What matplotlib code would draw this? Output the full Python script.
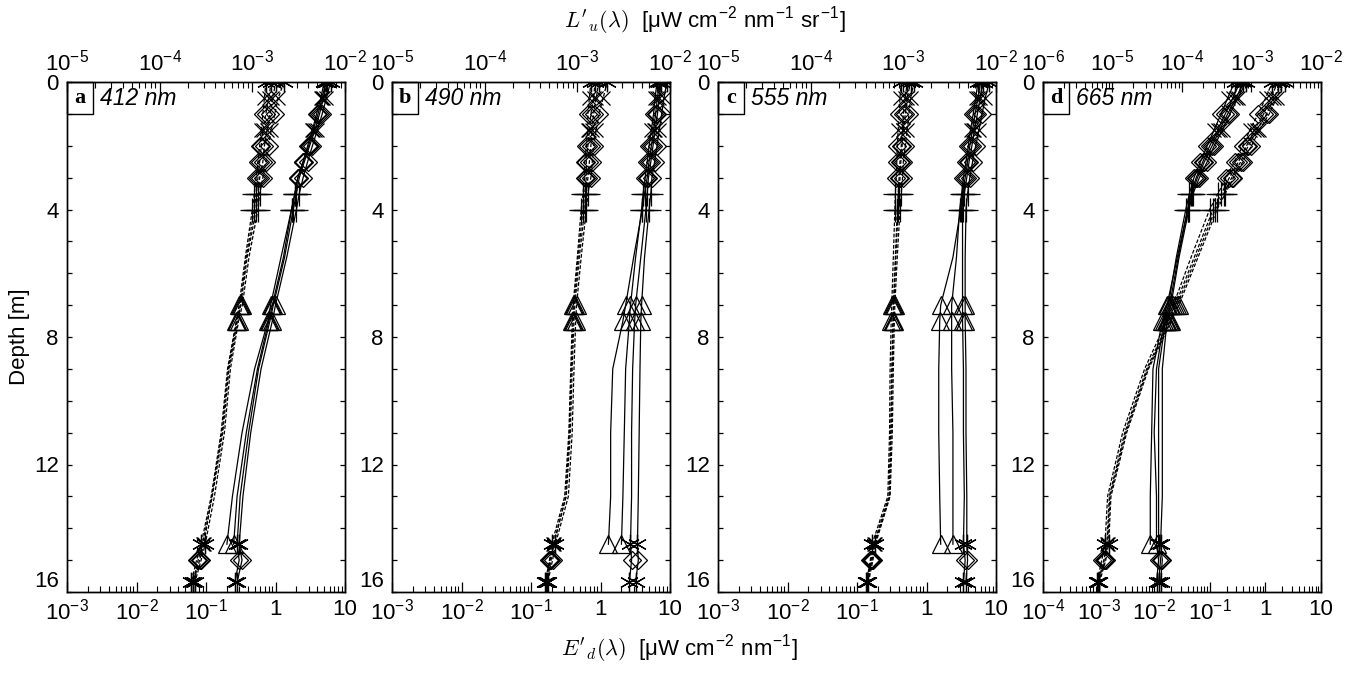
import numpy as np
import matplotlib
matplotlib.use("Agg")
import matplotlib.pyplot as plt
from matplotlib.patches import Rectangle
from matplotlib.ticker import LogLocator, NullFormatter, FixedLocator, FuncFormatter

plt.rcParams['font.family'] = ['Liberation Sans', 'DejaVu Sans']
plt.rcParams['mathtext.fontset'] = 'cm'
plt.rcParams['axes.linewidth'] = 1.0

# depth bins [m]
depth = [0, 0.5, 1, 1.5, 2, 2.5, 3, 3.5, 4, 5.5, 7, 7.5, 9, 11, 13, 14.5, 15, 15.7]
# symbol drawn at each bin ('tail' = per-cast symbol)
marks = ['*', 'x', 'D', 'x', 'D', 'D', 'D', '+', '+', None, '^', '^', None, None, None, 'tail', 'D', '*']

wavelengths = ['412 nm', '490 nm', '555 nm', '665 nm']
letters = ['a', 'b', 'c', 'd']

# E'd casts [uW cm-2 nm-1]
ed_412 = [
    [6.2, 5.4, 4.7, 4.0, 3.4, 2.9, 2.5, 2.2, 2.0, 1.45, 1.0, 0.9, 0.62, 0.44, 0.34, 0.30, 0.33, 0.28],
    [5.6, 4.9, 4.3, 3.7, 3.1, 2.6, 2.2, 2.0, 1.8, 1.35, 0.93, 0.83, 0.57, 0.41, 0.31, 0.28, 0.30, 0.26],
    [5.0, 4.5, 3.9, 3.4, 2.9, 2.5, 2.1, 1.9, 1.7, 1.3, 0.9, 0.8, 0.55, 0.38, 0.28, 0.25, None, None],
    [5.3, 4.7, 4.1, 3.5, 3.0, 2.5, 2.1, 1.9, 1.7, 1.2, 0.85, 0.78, 0.5, 0.33, 0.24, 0.20, None, None],
]
ed_490 = [
    [9.0, 8.2, 7.6, 7.0, 6.5, 6.0, 5.5, 5.3, 5.0, 4.3, 3.9, 3.8, 3.7, 3.6, 3.5, 3.4, 3.5, 3.2],
    [7.5, 7.0, 6.6, 6.1, 5.7, 5.3, 4.9, 4.7, 4.5, 3.8, 3.2, 3.1, 2.9, 2.8, 2.8, 2.7, 2.8, 2.6],
    [6.5, 6.1, 5.8, 5.4, 5.0, 4.7, 4.4, 4.1, 3.9, 3.2, 2.7, 2.6, 2.3, 2.2, 2.1, 2.0, None, None],
    [7.0, 6.6, 6.2, 5.8, 5.4, 5.0, 4.7, 4.3, 4.0, 3.0, 2.3, 2.1, 1.5, 1.4, 1.4, 1.3, None, None],
]
ed_555 = [
    [8.0, 7.0, 6.3, 5.7, 5.1, 4.6, 4.2, 3.9, 3.7, 3.6, 3.6, 3.6, 3.7, 3.7, 3.8, 3.8, 3.9, 3.7],
    [6.5, 5.9, 5.4, 4.9, 4.5, 4.1, 3.8, 3.5, 3.3, 3.3, 3.3, 3.3, 3.4, 3.4, 3.5, 3.4, 3.6, 3.4],
    [5.5, 5.1, 4.7, 4.3, 4.0, 3.7, 3.4, 3.2, 3.0, 2.7, 2.3, 2.3, 2.3, 2.4, 2.4, 2.4, None, None],
    [6.0, 5.5, 5.0, 4.6, 4.2, 3.9, 3.6, 3.3, 3.1, 2.4, 1.6, 1.55, 1.5, 1.5, 1.55, 1.6, None, None],
]
ed_665 = [
    [0.45, 0.32, 0.23, 0.17, 0.12, 0.09, 0.065, 0.05, 0.042, 0.028, 0.02, 0.017, 0.014, 0.014, 0.014, 0.013, 0.014, 0.013],
    [0.35, 0.26, 0.19, 0.14, 0.10, 0.075, 0.057, 0.046, 0.040, 0.027, 0.019, 0.016, 0.012, 0.012, 0.012, 0.012, 0.013, 0.012],
    [0.28, 0.21, 0.16, 0.12, 0.09, 0.068, 0.052, 0.043, 0.037, 0.025, 0.018, 0.015, 0.011, 0.010, 0.011, 0.011, 0.012, 0.011],
    [0.40, 0.30, 0.21, 0.15, 0.11, 0.08, 0.06, 0.048, 0.040, 0.026, 0.017, 0.014, 0.0095, 0.009, 0.0085, 0.0085, None, None],
]

# L'u casts [uW cm-2 nm-1 sr-1]
lu_412 = [
    [2.2e-3, 1.9e-3, 1.75e-3, 1.6e-3, 1.5e-3, 1.4e-3, 1.3e-3, 1.2e-3, 1.15e-3, 9.2e-4, 7.8e-4, 7.1e-4, 5.8e-4, 5.0e-4, 3.9e-4, 3.1e-4, 2.8e-4, 2.4e-4],
    [1.8e-3, 1.65e-3, 1.55e-3, 1.45e-3, 1.35e-3, 1.3e-3, 1.2e-3, 1.15e-3, 1.1e-3, 8.8e-4, 7.5e-4, 6.9e-4, 5.6e-4, 4.8e-4, 3.7e-4, 2.9e-4, 2.6e-4, 2.3e-4],
    [1.4e-3, 1.35e-3, 1.3e-3, 1.25e-3, 1.2e-3, 1.15e-3, 1.1e-3, 1.05e-3, 1.0e-3, 8.4e-4, 7.2e-4, 6.7e-4, 5.4e-4, 4.6e-4, 3.6e-4, 2.8e-4, 2.5e-4, 2.2e-4],
    [1.6e-3, 1.5e-3, 1.4e-3, 1.3e-3, 1.25e-3, 1.2e-3, 1.15e-3, 1.1e-3, 1.05e-3, 8.6e-4, 7.4e-4, 6.8e-4, 5.5e-4, 4.7e-4, 3.65e-4, 3.0e-4, 2.7e-4, 2.3e-4],
]
lu_490 = [
    [2.1e-3, 1.9e-3, 1.7e-3, 1.6e-3, 1.5e-3, 1.45e-3, 1.4e-3, 1.3e-3, 1.25e-3, 1.1e-3, 9.8e-4, 9.6e-4, 9.2e-4, 8.8e-4, 8.0e-4, 5.8e-4, 5.4e-4, 4.8e-4],
    [1.7e-3, 1.6e-3, 1.5e-3, 1.45e-3, 1.4e-3, 1.35e-3, 1.3e-3, 1.25e-3, 1.2e-3, 1.05e-3, 9.4e-4, 9.2e-4, 8.8e-4, 8.4e-4, 7.6e-4, 5.5e-4, 5.1e-4, 4.6e-4],
    [1.4e-3, 1.35e-3, 1.3e-3, 1.3e-3, 1.25e-3, 1.2e-3, 1.2e-3, 1.15e-3, 1.1e-3, 1.0e-3, 9.0e-4, 8.8e-4, 8.5e-4, 8.1e-4, 7.3e-4, 5.3e-4, 5.0e-4, 4.5e-4],
    [1.55e-3, 1.5e-3, 1.4e-3, 1.35e-3, 1.3e-3, 1.25e-3, 1.25e-3, 1.2e-3, 1.15e-3, 1.02e-3, 9.2e-4, 9.0e-4, 8.6e-4, 8.2e-4, 7.5e-4, 5.6e-4, 5.2e-4, 4.7e-4],
]
lu_555 = [
    [1.3e-3, 1.2e-3, 1.15e-3, 1.1e-3, 1.05e-3, 1.0e-3, 9.8e-4, 9.5e-4, 9.2e-4, 8.6e-4, 8.1e-4, 8.0e-4, 7.8e-4, 7.6e-4, 7.2e-4, 5.0e-4, 4.7e-4, 4.2e-4],
    [1.1e-3, 1.05e-3, 1.0e-3, 9.8e-4, 9.5e-4, 9.2e-4, 9.0e-4, 8.8e-4, 8.6e-4, 8.2e-4, 7.8e-4, 7.7e-4, 7.5e-4, 7.3e-4, 7.0e-4, 4.8e-4, 4.5e-4, 4.1e-4],
    [9.5e-4, 9.2e-4, 9.0e-4, 8.8e-4, 8.6e-4, 8.5e-4, 8.4e-4, 8.2e-4, 8.1e-4, 7.8e-4, 7.5e-4, 7.4e-4, 7.2e-4, 7.1e-4, 6.8e-4, 4.6e-4, 4.4e-4, 4.0e-4],
    [1.2e-3, 1.1e-3, 1.05e-3, 1.0e-3, 9.7e-4, 9.4e-4, 9.2e-4, 9.0e-4, 8.8e-4, 8.3e-4, 7.9e-4, 7.8e-4, 7.6e-4, 7.4e-4, 7.1e-4, 4.9e-4, 4.6e-4, 4.1e-4],
]
lu_665 = [
    [3.0e-3, 2.3e-3, 1.8e-3, 1.3e-3, 1.0e-3, 7.5e-4, 5.5e-4, 4.2e-4, 3.2e-4, 1.7e-4, 9.0e-5, 7.0e-5, 3.3e-5, 1.6e-5, 9.5e-6, 8.8e-6, 8.0e-6, 6.5e-6],
    [2.4e-3, 1.9e-3, 1.5e-3, 1.1e-3, 8.5e-4, 6.5e-4, 4.8e-4, 3.7e-4, 2.8e-4, 1.5e-4, 8.0e-5, 6.5e-5, 3.1e-5, 1.5e-5, 9.0e-6, 8.3e-6, 7.5e-6, 6.2e-6],
    [2.0e-3, 1.6e-3, 1.25e-3, 9.5e-4, 7.5e-4, 5.7e-4, 4.3e-4, 3.3e-4, 2.5e-4, 1.35e-4, 7.5e-5, 6.0e-5, 2.9e-5, 1.4e-5, 8.5e-6, 7.8e-6, 7.0e-6, 6.0e-6],
    [2.7e-3, 2.1e-3, 1.65e-3, 1.2e-3, 9.0e-4, 7.0e-4, 5.2e-4, 4.0e-4, 3.0e-4, 1.6e-4, 8.5e-5, 6.8e-5, 3.2e-5, 1.55e-5, 9.2e-6, 8.5e-6, 7.8e-6, 6.3e-6],
]

ed_all = [ed_412, ed_490, ed_555, ed_665]
lu_all = [lu_412, lu_490, lu_555, lu_665]
ed_tail = ['*', '*', '^', '^']
lu_tail = ['*', 'x', '*', 'x']

ed_lims = [(1e-3, 10), (1e-3, 10), (1e-3, 10), (1e-4, 10)]
lu_lims = [(1e-5, 1e-2), (1e-5, 1e-2), (1e-5, 1e-2), (1e-6, 1e-2)]

MSTYLE = {'*': ((6, 2, 0), 14), 'x': ('x', 10), 'D': ('D', 9),
          '+': ('+', 17), '^': ('^', 13)}


def put_marks(ax, xs, tail):
    x = np.array(xs, dtype=float)
    z = np.array(depth)
    syms = [tail if m == 'tail' else m for m in marks]
    for s in MSTYLE:
        idx = [i for i, m in enumerate(syms) if m == s]
        if not idx:
            continue
        mk, ms = MSTYLE[s]
        ax.plot(x[idx], z[idx], ls='none', marker=mk, ms=ms, mfc='none',
                mec='k', mew=0.9, zorder=3)


def log_label(v, pos):
    e = int(round(np.log10(v)))
    if e >= 0:
        return '%d' % round(v)
    return r'$\mathdefault{10^{%d}}$' % e


def style_log(axis):
    axis.set_major_locator(LogLocator(base=10, numticks=20))
    axis.set_minor_locator(LogLocator(base=10, subs=np.arange(2, 10), numticks=20))
    axis.set_minor_formatter(NullFormatter())
    axis.set_major_formatter(FuncFormatter(log_label))


fig = plt.figure(figsize=(13.62, 6.73), dpi=100)
lefts = [67, 392, 718, 1043]

for k in range(4):
    ax = fig.add_axes([lefts[k] / 1362, 1 - 592 / 673, 278 / 1362, 510 / 673])
    axt = ax.twiny()

    for cast, tail in zip(ed_all[k], ed_tail):
        ax.plot(np.array(cast, dtype=float), depth, color='k', lw=0.9)
        put_marks(ax, cast, tail)
    for cast, tail in zip(lu_all[k], lu_tail):
        axt.plot(np.array(cast, dtype=float), depth, color='k', lw=0.9,
                 dashes=(3, 1.5))
        put_marks(axt, cast, tail)

    ax.set_xscale('log')
    axt.set_xscale('log')
    ax.set_xlim(*ed_lims[k])
    axt.set_xlim(*lu_lims[k])
    ax.set_ylim(16, 0)
    style_log(ax.xaxis)
    style_log(axt.xaxis)

    ax.yaxis.set_major_locator(FixedLocator(np.arange(0, 17)))
    ax.yaxis.set_major_formatter(FuncFormatter(
        lambda v, p: '%d' % v if int(round(v)) % 4 == 0 else ''))

    ax.tick_params(axis='x', which='major', direction='in', length=7, width=0.9,
                   labelsize=16, pad=5, top=False)
    ax.tick_params(axis='x', which='minor', direction='in', length=4, width=0.8, top=False)
    ax.tick_params(axis='y', which='major', direction='in', length=3.5, width=0.9,
                   labelsize=16, pad=6, right=True)
    axt.tick_params(axis='x', which='major', direction='in', length=7, width=0.9,
                    labelsize=16, pad=5, bottom=False)
    axt.tick_params(axis='x', which='minor', direction='in', length=4, width=0.8,
                    bottom=False)

    # the deepest label sits just above the corner, clear of the x labels
    ax.yaxis.get_major_ticks()[16].label1.set_verticalalignment('bottom')

    # panel letter box and wavelength
    ax.add_patch(Rectangle((0, 1 - 0.0627), 0.0935, 0.0627, transform=ax.transAxes,
                           fill=False, lw=1.0, ec='k', zorder=5, clip_on=False))
    ax.text(0.0468, 1 - 0.0313, letters[k], transform=ax.transAxes, ha='center',
            va='center', fontsize=16, fontweight='bold',
            family=['Liberation Serif', 'DejaVu Serif'], zorder=6)
    axt.text(0.118, 1 - 0.033, wavelengths[k], transform=ax.transAxes, ha='left',
             va='center', fontsize=16.5, fontstyle='italic')

    if k == 0:
        ax.set_ylabel('Depth [m]', fontsize=16, labelpad=3)

fig.text(705 / 1362, 1 - 22 / 673,
         r"$L'_u(\lambda)$  [μW cm$^{\mathdefault{-2}}$ nm$^{\mathdefault{-1}}$ sr$^{\mathdefault{-1}}$]",
         ha='center', va='center', fontsize=16)
fig.text(680 / 1362, 1 - 650 / 673,
         r"$E'_d(\lambda)$  [μW cm$^{\mathdefault{-2}}$ nm$^{\mathdefault{-1}}$]",
         ha='center', va='center', fontsize=16)

fig.savefig('out.png', dpi=100)
